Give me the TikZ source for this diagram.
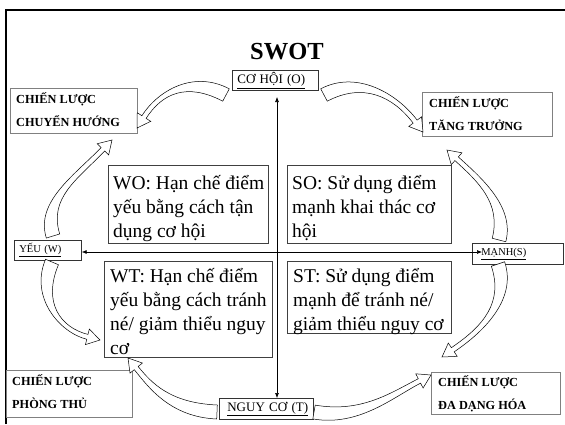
\documentclass[tikz,border=0pt]{standalone}
\usepackage{fontspec}
\setmainfont{Liberation Serif}
\usetikzlibrary{calc,arrows.meta}

% Curved block arrow along a cubic centre line #1..#4 (tip at #4).
% #5 half width at the tail, #6 half width at the neck,
% #7 half width of the head, #8 length of the head.
\newcommand\bentarrow[8]{%
  \coordinate (ba0) at #1; \coordinate (ba1) at #2;
  \coordinate (ba2) at #3; \coordinate (ba3) at #4;
  \coordinate (bas) at ($(ba3)!#8!(ba2)$);
  \coordinate (bl0) at ($(ba0)!#5!90:(ba1)$);
  \coordinate (br0) at ($(ba0)!#5!-90:(ba1)$);
  \coordinate (bl1) at ($(ba1)+(bl0)-(ba0)$);
  \coordinate (br1) at ($(ba1)+(br0)-(ba0)$);
  \coordinate (bl3) at ($(bas)!#6!-90:(ba2)$);
  \coordinate (br3) at ($(bas)!#6!90:(ba2)$);
  \coordinate (bl2) at ($(ba2)+(bl3)-(bas)$);
  \coordinate (br2) at ($(ba2)+(br3)-(bas)$);
  \coordinate (hl) at ($(bas)!#7!-90:(ba2)$);
  \coordinate (hr) at ($(bas)!#7!90:(ba2)$);
  \draw[blockarrow] (bl0) .. controls (bl1) and (bl2) .. (bl3) -- (hl) -- (ba3)
    -- (hr) -- (br3) .. controls (br2) and (br1) .. (br0) -- cycle;
}

% multi-line text nodes are placed by the baseline of their last line
\tikzset{
  blockarrow/.style={draw=black, fill=white, line width=0.5pt, line join=miter},
  quadframe/.style={draw=black!75, line width=0.8pt, anchor=north west, inner sep=0pt},
  quadtext/.style={anchor=base west, inner sep=0pt, align=left,
    font=\fontsize{19.5}{24}\selectfont},
  stratframe/.style={draw=black!50, line width=0.8pt, anchor=north west, inner sep=0pt},
  strattext/.style={anchor=base west, inner sep=0pt, align=left,
    font=\bfseries\fontsize{12.3}{23}\selectfont},
  factbox/.style={draw=black!80, line width=0.7pt, anchor=north west, inner xsep=5pt,
    inner ysep=0pt, align=left},
  axis/.style={line width=0.6pt, {Latex[length=5pt,width=4pt]}-{Latex[length=5pt,width=4pt]}}
}

\begin{document}
\begin{tikzpicture}[x=1pt,y=-1pt]
\useasboundingbox (0,0) rectangle (565,424);

% slide frame
\draw[line width=2.6pt] (6,424) -- (6,10) -- (565,10);

% title
\node[font=\bfseries\fontsize{24.5}{28}\selectfont] (title) at (287,52) {SWOT};

% the four factors
\node[factbox, minimum width=86pt, minimum height=20pt, text width=76pt,
  font=\fontsize{13}{15}\selectfont] (opp) at (232,70) {\underline{CƠ HỘI (O)}};
\node[factbox, minimum width=67pt, minimum height=20pt, text width=57pt,
  font=\fontsize{10.5}{12}\selectfont] (weak) at (14,240) {\underline{YẾU (W)}};
\node[factbox, minimum width=91pt, minimum height=21pt, text width=73pt,
  inner xsep=9pt, font=\fontsize{10.5}{12}\selectfont] (strong) at (472,243) {\underline{MẠNH(S)}};
\node[factbox, minimum width=94pt, minimum height=21pt, text width=78pt,
  inner xsep=8pt, font=\fontsize{13}{15}\selectfont] (threat) at (219,398) {\underline{NGUY CƠ (T)}};

% the four strategy quadrants
\node[quadframe, minimum width=160pt, minimum height=78pt] (wo) at (108,165) {};
\node[quadtext] (wotext) at ($(wo.north west)+(5,72.5)$)
  {WO: Hạn chế điểm\\yếu bằng cách tận\\dụng cơ hội};
\node[quadframe, minimum width=164pt, minimum height=78pt] (so) at (287,165) {};
\node[quadtext] (sotext) at ($(so.north west)+(5,72.5)$)
  {SO: Sử dụng điểm\\mạnh khai thác cơ\\hội};
\node[quadframe, minimum width=168pt, minimum height=96pt] (wt) at (104,261) {};
\node[quadtext] (wttext) at ($(wt.north west)+(6,93)$)
  {WT: Hạn chế điểm\\yếu bằng cách tránh\\né/ giảm thiểu nguy\\cơ};
\node[quadframe, minimum width=164pt, minimum height=72pt] (st) at (287,261) {};
\node[quadtext] (sttext) at ($(st.north west)+(6,69)$)
  {ST: Sử dụng điểm\\mạnh để tránh né/\\giảm thiểu nguy cơ};

% the four strategy labels
\node[stratframe, minimum width=127pt, minimum height=45pt] (turn) at (10,88) {};
\node[strattext] (turntext) at ($(turn.north west)+(6,38)$) {CHIẾN LƯỢC\\CHUYỂN HƯỚNG};
\node[stratframe, minimum width=130pt, minimum height=44pt] (grow) at (422,92) {};
\node[strattext] (growtext) at ($(grow.north west)+(7,38)$) {CHIẾN LƯỢC\\TĂNG TRƯỞNG};
\node[stratframe, minimum width=126pt, minimum height=47pt] (defend) at (6,370) {};
\node[strattext] (defendtext) at ($(defend.north west)+(6,38.5)$) {CHIẾN LƯỢC\\PHÒNG THỦ};
\node[stratframe, minimum width=129pt, minimum height=42pt] (diver) at (431,372) {};
\node[strattext] (divertext) at ($(diver.north west)+(7,37.5)$) {CHIẾN LƯỢC\\ĐA DẠNG HÓA};

% axes
\coordinate (otip) at (277,97);
\coordinate (stip) at (482,252);
\draw[axis] (otip) -- (otip |- threat.north);
\draw[axis] (weak.east |- stip) -- (stip);

% curved block arrows round the matrix
\bentarrow{(226,95)}{(190,76)}{(160,92)}{(137,128)}{7pt}{2.5pt}{8pt}{13pt}
\bentarrow{(324,95)}{(360,76)}{(395,95)}{(423,132)}{7pt}{2.5pt}{8pt}{13pt}
\bentarrow{(53,236)}{(42,200)}{(75,178)}{(112,140)}{7pt}{2.5pt}{8pt}{13pt}
\bentarrow{(499,240)}{(508,205)}{(480,180)}{(447,150)}{7pt}{2.5pt}{8pt}{13pt}
\bentarrow{(52,262)}{(36,300)}{(60,330)}{(100,340)}{7pt}{2.5pt}{8pt}{13pt}
\bentarrow{(498,264)}{(510,300)}{(485,328)}{(442,357)}{7pt}{2.5pt}{8pt}{13pt}
\bentarrow{(217,412)}{(170,410)}{(150,385)}{(128,358)}{7pt}{2.5pt}{8pt}{13pt}
\bentarrow{(314,412)}{(360,420)}{(392,395)}{(431,375)}{7pt}{2.5pt}{8pt}{13pt}

\end{tikzpicture}
\end{document}
